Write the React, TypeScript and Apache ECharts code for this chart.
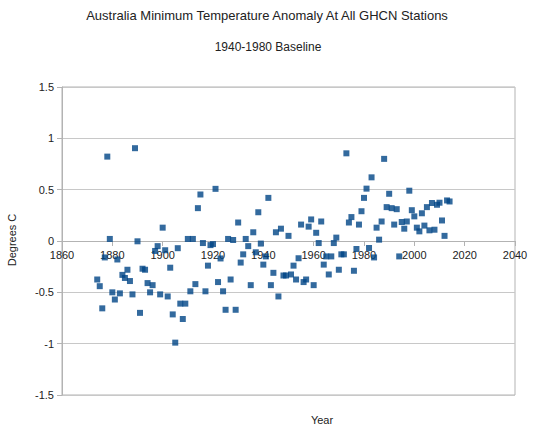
import React, { useEffect, useRef } from "react";
import * as echarts from "echarts";

const TITLE = "Australia Minimum Temperature Anomaly At All GHCN Stations";
const SUBTITLE = "1940-1980 Baseline";
const X_NAME = "Year";
const Y_NAME = "Degrees C";

const years: number[] = [
  1874, 1875, 1876, 1877, 1878, 1879, 1880, 1881, 1882, 1883, 1884, 1885, 1886, 1887, 1888, 1889,
  1890, 1891, 1892, 1893, 1894, 1895, 1896, 1897, 1898, 1899, 1900, 1901, 1902, 1903, 1904, 1905,
  1906, 1907, 1908, 1909, 1910, 1911, 1912, 1913, 1914, 1915, 1916, 1917, 1918, 1919, 1920, 1921,
  1922, 1923, 1924, 1925, 1926, 1927, 1928, 1929, 1930, 1931, 1932, 1933, 1934, 1935, 1936, 1937,
  1938, 1939, 1940, 1941, 1942, 1943, 1944, 1945, 1946, 1947, 1948, 1949, 1950, 1951, 1952, 1953,
  1954, 1955, 1956, 1957, 1958, 1959, 1960, 1961, 1962, 1963, 1964, 1965, 1966, 1967, 1968, 1969,
  1970, 1971, 1972, 1973, 1974, 1975, 1976, 1977, 1978, 1979, 1980, 1981, 1982, 1983, 1984, 1985,
  1986, 1987, 1988, 1989, 1990, 1991, 1992, 1993, 1994, 1995, 1996, 1997, 1998, 1999, 2000, 2001,
  2002, 2003, 2004, 2005, 2006, 2007, 2008, 2009, 2010, 2011, 2012, 2013, 2014,
];

const anomalies: number[] = [
  -0.375, -0.44, -0.656, -0.16, 0.822, 0.02, -0.5, -0.57, -0.18, -0.51, -0.33, -0.36, -0.28, -0.39, -0.52, 0.904,
  -0.003, -0.7, -0.27, -0.28, -0.41, -0.5, -0.43, -0.097, -0.05, -0.52, 0.13, -0.09, -0.54, -0.26, -0.715, -0.99,
  -0.07, -0.61, -0.76, -0.61, 0.02, -0.49, 0.02, -0.42, 0.32, 0.453, -0.02, -0.49, -0.24, -0.04, -0.03, 0.508,
  -0.4, -0.17, -0.49, -0.67, 0.02, -0.375, 0.01, -0.67, 0.18, -0.21, -0.13, 0.02, -0.05, -0.43, 0.085, -0.11,
  0.28, -0.025, -0.23, -0.15, 0.42, -0.43, -0.31, 0.085, -0.54, 0.12, -0.336, -0.336, 0.05, -0.326, -0.24, -0.375,
  -0.168, 0.16, -0.4, -0.375, 0.14, 0.21, -0.43, 0.08, -0.02, 0.19, -0.23, -0.15, -0.326, -0.15, -0.02, 0.033,
  -0.28, -0.13, -0.13, 0.854, 0.18, 0.233, -0.29, -0.078, 0.16, 0.29, 0.42, 0.51, -0.068, 0.62, -0.16, 0.13,
  0.013, 0.19, 0.8, 0.33, 0.46, 0.32, 0.16, 0.31, -0.15, 0.185, 0.12, 0.19, 0.49, 0.3, 0.24, 0.13,
  0.094, 0.27, 0.15, 0.33, 0.104, 0.37, 0.11, 0.353, 0.373, 0.2, 0.05, 0.395, 0.385,
];

const X_MIN = 1860;
const X_MAX = 2040;
const X_STEP = 20;
const Y_MIN = -1.5;
const Y_MAX = 1.5;
const Y_STEP = 0.5;

const FONT = "'Liberation Sans', Arial, sans-serif";

const GRID_TOP = 87;
const GRID_HEIGHT = 308;

export default function App() {
  const ref = useRef<HTMLDivElement>(null);

  useEffect(() => {
    if (!ref.current) return;
    const chart = echarts.init(ref.current, undefined, { renderer: "svg" });
    const data = years.map((y, i) => [y, anomalies[i]]);
    // x axis sits on the y = 0 line (middle of the symmetric y range)
    const zeroOffset = -GRID_HEIGHT * (0 - Y_MIN) / (Y_MAX - Y_MIN);
    chart.setOption({
      animation: false,
      backgroundColor: "#ffffff",
      textStyle: { fontFamily: FONT },
      grid: {
        left: 62,
        top: GRID_TOP,
        width: 453,
        height: GRID_HEIGHT,
        show: true,
        borderColor: "#b3b3b3",
        borderWidth: 1,
        backgroundColor: "transparent",
      },
      xAxis: {
        type: "value",
        min: X_MIN,
        max: X_MAX,
        interval: X_STEP,
        position: "bottom",
        offset: zeroOffset,
        axisLine: { show: true, onZero: false, lineStyle: { color: "#b3b3b3", width: 1 } },
        axisTick: { show: true, length: 5, lineStyle: { color: "#b3b3b3" } },
        axisLabel: {
          color: "#222",
          fontSize: 11,
          fontFamily: FONT,
          margin: 8,
          formatter: (v: number) => String(v),
        },
        splitLine: { show: false },
      },
      yAxis: {
        type: "value",
        min: Y_MIN,
        max: Y_MAX,
        interval: Y_STEP,
        axisLine: { show: true, onZero: false, lineStyle: { color: "#b3b3b3", width: 1 } },
        axisTick: { show: true, length: 5, lineStyle: { color: "#b3b3b3" } },
        axisLabel: { color: "#222", fontSize: 11, fontFamily: FONT, margin: 8 },
        splitLine: { show: true, lineStyle: { color: "#c8c8c8", width: 1 } },
      },
      series: [
        {
          type: "scatter",
          data,
          symbol: "rect",
          symbolSize: 6,
          itemStyle: { color: "#004586" },
        },
      ],
      graphic: [
        {
          type: "text",
          x: 267,
          y: 15,
          style: {
            text: TITLE,
            fill: "#222",
            font: `13px ${FONT}`,
            textAlign: "center",
            textVerticalAlign: "middle",
          },
        },
        {
          type: "text",
          x: 268,
          y: 47,
          style: {
            text: SUBTITLE,
            fill: "#222",
            font: `12px ${FONT}`,
            textAlign: "center",
            textVerticalAlign: "middle",
          },
        },
        {
          type: "text",
          x: 12,
          y: 240,
          rotation: Math.PI / 2,
          style: {
            text: Y_NAME,
            fill: "#222",
            font: `11px ${FONT}`,
            textAlign: "center",
            textVerticalAlign: "middle",
          },
        },
        {
          type: "text",
          x: 322,
          y: 420,
          style: {
            text: X_NAME,
            fill: "#222",
            font: `11px ${FONT}`,
            textAlign: "center",
            textVerticalAlign: "middle",
          },
        },
      ],
    });
    return () => chart.dispose();
  }, []);

  return (
    <div
      ref={ref}
      style={{ position: "absolute", left: 0, top: 0, width: 535, height: 434 }}
    />
  );
}
